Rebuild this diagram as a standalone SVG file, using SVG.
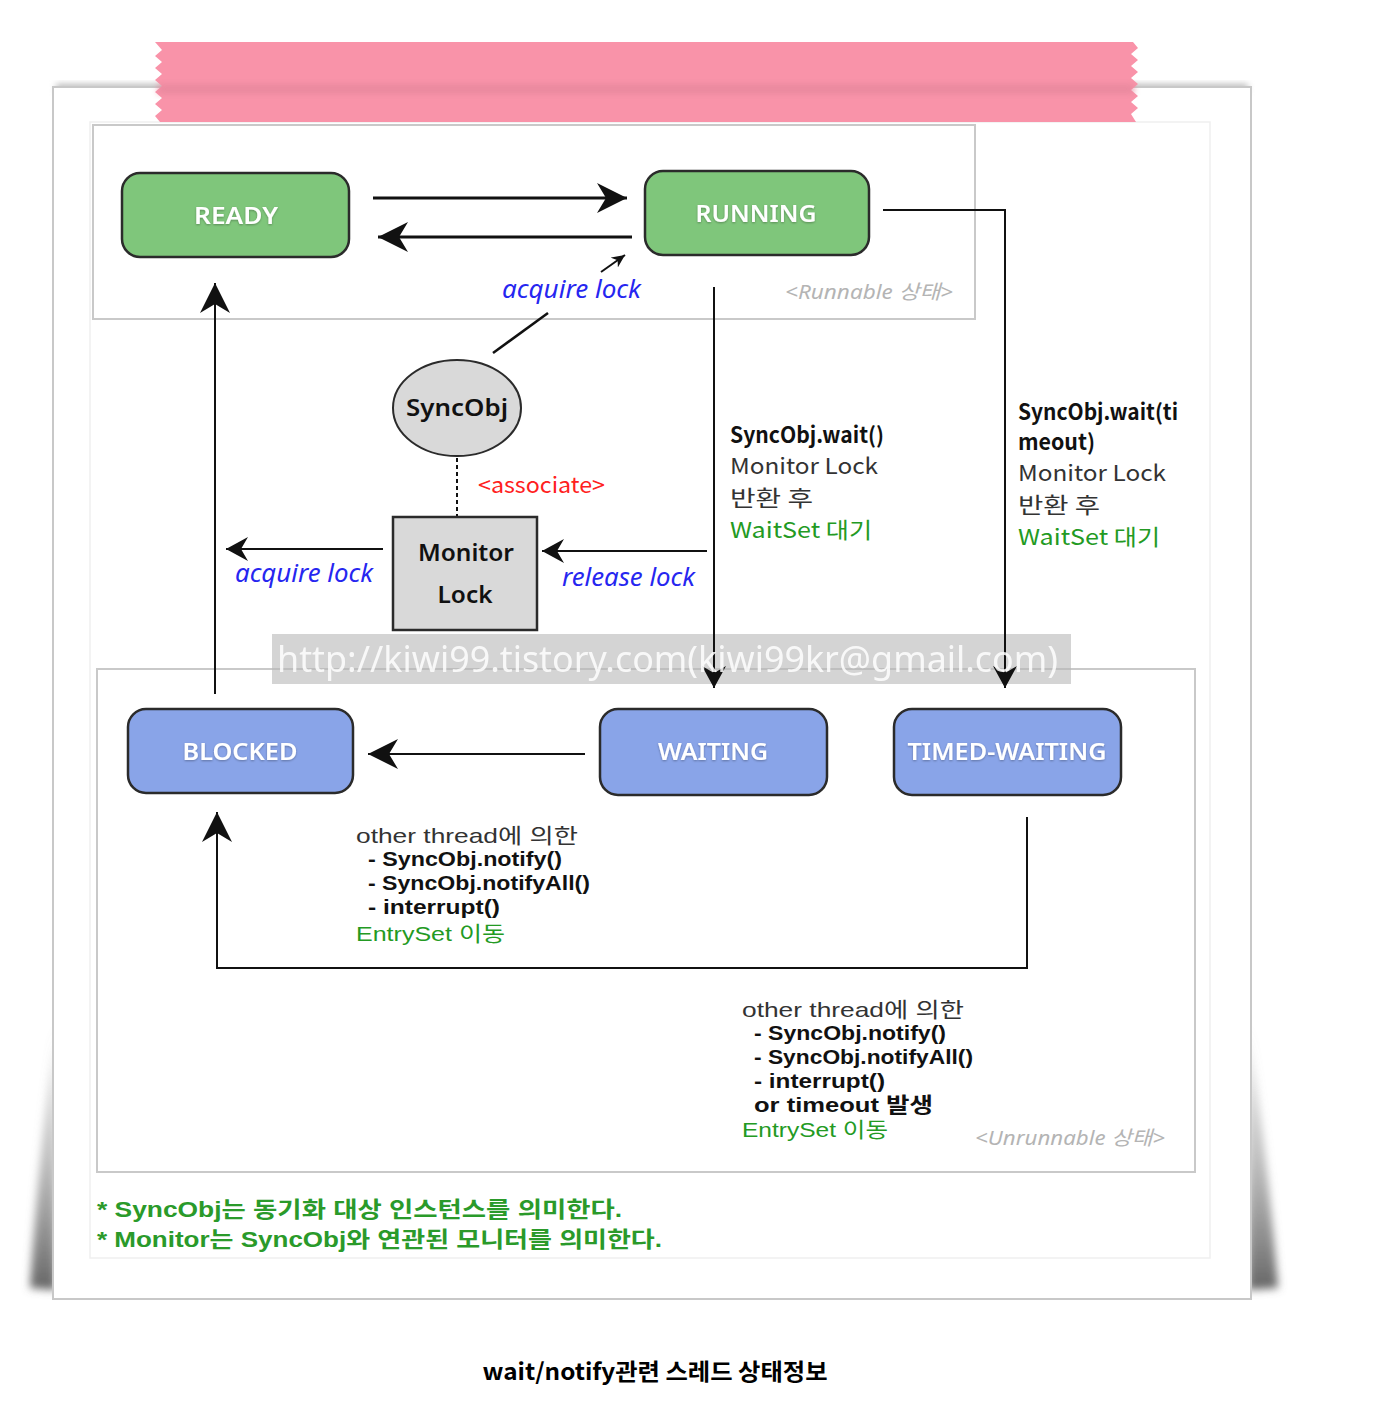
<svg xmlns="http://www.w3.org/2000/svg" width="1380" height="1420" viewBox="0 0 1380 1420">
<defs>
<style>
.t{font-family:"Noto Sans","Noto Sans CJK KR",sans-serif;}
.k{font-family:"Noto Sans CJK KR","Noto Sans",sans-serif;}
.node{stroke:#2b2b2b;stroke-width:2.5;}
.g{fill:#7fc67b;}
.b{fill:#89a4e8;}
.nt{font-family:"Noto Sans","Noto Sans CJK KR",sans-serif;font-size:23px;font-weight:600;fill:#ffffff;text-anchor:middle;}
.blue{font-family:"Noto Sans","Noto Sans CJK KR",sans-serif;font-size:25px;font-style:italic;fill:#2626f0;}
.lbl{font-family:"Noto Sans CJK KR","Noto Sans",sans-serif;font-size:22px;}
.sm{font-family:"Liberation Sans","Noto Sans CJK KR",sans-serif;font-size:21px;}
.foot{font-family:"Liberation Sans","Noto Sans CJK KR",sans-serif;font-size:22px;font-weight:700;fill:#2a9a2a;}
.blk{fill:#111;font-weight:600;}
.dk{fill:#333;}
.grn{fill:#239a23;}
.gry{font-family:"Noto Sans","Noto Sans CJK KR",sans-serif;font-size:20px;font-style:italic;fill:#b4b4b4;}
.ln{fill:none;stroke:#111;}
.box{fill:none;stroke:#c9c9c9;stroke-width:2;}
</style>
<marker id="big" markerUnits="userSpaceOnUse" markerWidth="32" markerHeight="30" refX="30" refY="15" orient="auto">
<path d="M0,0 L30,15 L0,30 L9,15 Z" fill="#111"/>
</marker>
<marker id="med" markerUnits="userSpaceOnUse" markerWidth="24" markerHeight="24" refX="22" refY="12" orient="auto">
<path d="M0,0 L22,12 L0,24 L7,12 Z" fill="#111"/>
</marker>
<marker id="sm" markerUnits="userSpaceOnUse" markerWidth="14" markerHeight="12" refX="13" refY="6" orient="auto">
<path d="M0,0 L13,6 L0,12 L4,6 Z" fill="#111"/>
</marker>
<linearGradient id="shd" x1="0" y1="0" x2="0" y2="1">
<stop offset="0" stop-color="#888" stop-opacity="0"/>
<stop offset="0.5" stop-color="#999" stop-opacity="0.6"/>
<stop offset="1" stop-color="#666" stop-opacity="1"/>
</linearGradient>
<filter id="blur" x="-50%" y="-20%" width="200%" height="140%"><feGaussianBlur stdDeviation="4"/></filter>
<filter id="blur2" x="-50%" y="-50%" width="200%" height="200%"><feGaussianBlur stdDeviation="3"/></filter>
<filter id="ts" x="-10%" y="-10%" width="120%" height="140%"><feGaussianBlur in="SourceAlpha" stdDeviation="1"/><feOffset dx="0" dy="1" result="o"/><feFlood flood-color="#000" flood-opacity="0.3"/><feComposite in2="o" operator="in"/><feMerge><feMergeNode/><feMergeNode in="SourceGraphic"/></feMerge></filter>
</defs>
<rect x="0" y="0" width="1380" height="1420" fill="#ffffff"/>

<!-- paper with shadows -->
<g id="paper">
<path d="M56,1020 L56,1290 L30,1288 Q38,1160 56,1020 Z" fill="url(#shd)" filter="url(#blur)"/>
<path d="M1248,1020 L1248,1290 L1278,1288 Q1268,1160 1248,1020 Z" fill="url(#shd)" filter="url(#blur)"/>
<rect x="56" y="84" width="1192" height="8" fill="#bbb" filter="url(#blur2)"/>
<rect x="53" y="87" width="1198" height="1212" fill="#ffffff" stroke="#c8c8c8" stroke-width="2"/>
<rect x="90" y="122" width="1120" height="1136" fill="#ffffff" stroke="#efefef" stroke-width="1.5"/>
</g>

<!-- tape -->
<g id="tape">
<path d="M155,42 L1133,42 L1138,48 L1131,54 L1138,60 L1131,66 L1138,72 L1131,78 L1138,84 L1131,90 L1138,96 L1131,102 L1138,108 L1131,114 L1136,122 L160,122 L155,116 L162,110 L155,104 L162,98 L155,92 L162,86 L155,80 L162,74 L155,68 L162,62 L155,56 L162,50 Z" fill="#f993a9"/>
<rect x="158" y="84" width="976" height="10" fill="#e6879c" opacity="0.8" filter="url(#blur2)"/>
</g>

<!-- regions -->
<g id="runnable-area">
<rect class="box" x="93" y="125" width="882" height="194"/>
<text class="gry" x="785" y="299" textLength="168" lengthAdjust="spacingAndGlyphs">&lt;Runnable 상태&gt;</text>
</g>
<g id="unrunnable-area">
<rect class="box" x="97" y="669" width="1098" height="503"/>
<text class="gry" x="975" y="1145" textLength="190" lengthAdjust="spacingAndGlyphs">&lt;Unrunnable 상태&gt;</text>
</g>

<g id="watermark-band">
<rect x="272" y="634" width="799" height="50" fill="#b8b8b8" opacity="0.6"/>
</g>

<!-- connectors -->
<g id="connectors">
<line class="ln" x1="373" y1="198" x2="627" y2="198" stroke-width="3" marker-end="url(#big)"/>
<line class="ln" x1="632" y1="237" x2="378" y2="237" stroke-width="3" marker-end="url(#big)"/>
<line class="ln" x1="601" y1="272" x2="625" y2="255" stroke-width="2" marker-end="url(#sm)"/>
<line class="ln" x1="548" y1="313" x2="493" y2="353" stroke-width="2.5"/>
<line class="ln" x1="457" y1="458" x2="457" y2="517" stroke-width="2" stroke-dasharray="4,3"/>
<line class="ln" x1="383" y1="549" x2="226" y2="549" stroke-width="2" marker-end="url(#med)"/>
<line class="ln" x1="707" y1="551" x2="542" y2="551" stroke-width="2" marker-end="url(#med)"/>
<line class="ln" x1="714" y1="287" x2="714" y2="688" stroke-width="2" marker-end="url(#med)"/>
<polyline class="ln" points="883,210 1005,210 1005,688" stroke-width="2" marker-end="url(#med)"/>
<line class="ln" x1="215" y1="694" x2="215" y2="283" stroke-width="2" marker-end="url(#big)"/>
<line class="ln" x1="585" y1="754" x2="368" y2="754" stroke-width="2" marker-end="url(#big)"/>
<polyline class="ln" points="1027,817 1027,968 217,968 217,812" stroke-width="2" marker-end="url(#big)"/>
</g>

<!-- nodes -->
<g id="ready">
<rect class="node g" x="122" y="173" width="227" height="84" rx="18"/>
<text class="nt" x="236" y="224" filter="url(#ts)" textLength="84" lengthAdjust="spacingAndGlyphs">READY</text>
</g>
<g id="running">
<rect class="node g" x="645" y="171" width="224" height="84" rx="18"/>
<text class="nt" x="756" y="222" filter="url(#ts)" textLength="121" lengthAdjust="spacingAndGlyphs">RUNNING</text>
</g>
<g id="syncobj">
<ellipse cx="457" cy="408" rx="64" ry="48" fill="#d9d9d9" stroke="#2b2b2b" stroke-width="2"/>
<text class="t" x="457" y="416" font-size="24" font-weight="600" fill="#111" text-anchor="middle" textLength="102" lengthAdjust="spacingAndGlyphs">SyncObj</text>
</g>
<g id="monitor-lock">
<rect x="393" y="517" width="144" height="113" fill="#d9d9d9" stroke="#2b2b2b" stroke-width="2.5"/>
<text class="t" x="466" y="561" font-size="24" font-weight="600" fill="#111" text-anchor="middle" textLength="96" lengthAdjust="spacingAndGlyphs">Monitor</text>
<text class="t" x="465" y="603" font-size="24" font-weight="600" fill="#111" text-anchor="middle" textLength="55" lengthAdjust="spacingAndGlyphs">Lock</text>
</g>
<g id="blocked">
<rect class="node b" x="128" y="709" width="225" height="84" rx="18"/>
<text class="nt" x="240" y="760" filter="url(#ts)" textLength="115" lengthAdjust="spacingAndGlyphs">BLOCKED</text>
</g>
<g id="waiting">
<rect class="node b" x="600" y="709" width="227" height="86" rx="18"/>
<text class="nt" x="713" y="760" filter="url(#ts)" textLength="110" lengthAdjust="spacingAndGlyphs">WAITING</text>
</g>
<g id="timed-waiting">
<rect class="node b" x="894" y="709" width="227" height="86" rx="18"/>
<text class="nt" x="1007" y="760" filter="url(#ts)" textLength="199" lengthAdjust="spacingAndGlyphs">TIMED-WAITING</text>
</g>

<!-- labels -->
<g id="labels">
<text class="blue" x="502" y="298" textLength="139" lengthAdjust="spacingAndGlyphs">acquire lock</text>
<text class="k" x="478" y="493" font-size="22" fill="#ff2020" textLength="127" lengthAdjust="spacingAndGlyphs">&lt;associate&gt;</text>
<text class="blue" x="235" y="582" textLength="138" lengthAdjust="spacingAndGlyphs">acquire lock</text>
<text class="blue" x="562" y="586" textLength="133" lengthAdjust="spacingAndGlyphs">release lock</text>

<text class="lbl blk" x="730" y="443" textLength="154" lengthAdjust="spacingAndGlyphs">SyncObj.wait()</text>
<text class="lbl dk" x="730" y="474" textLength="148" lengthAdjust="spacingAndGlyphs">Monitor Lock</text>
<text class="lbl dk" x="730" y="506" textLength="83" lengthAdjust="spacingAndGlyphs">반환 후</text>
<text class="lbl grn" x="730" y="538" textLength="142" lengthAdjust="spacingAndGlyphs">WaitSet 대기</text>

<text class="lbl blk" x="1018" y="420" textLength="160" lengthAdjust="spacingAndGlyphs">SyncObj.wait(ti</text>
<text class="lbl blk" x="1018" y="450" textLength="77" lengthAdjust="spacingAndGlyphs">meout)</text>
<text class="lbl dk" x="1018" y="481" textLength="148" lengthAdjust="spacingAndGlyphs">Monitor Lock</text>
<text class="lbl dk" x="1018" y="513" textLength="82" lengthAdjust="spacingAndGlyphs">반환 후</text>
<text class="lbl grn" x="1018" y="545" textLength="142" lengthAdjust="spacingAndGlyphs">WaitSet 대기</text>

<text class="sm dk" x="356" y="843" textLength="222" lengthAdjust="spacingAndGlyphs">other thread에 의한</text>
<text class="sm blk" x="368" y="866" textLength="194" lengthAdjust="spacingAndGlyphs">- SyncObj.notify()</text>
<text class="sm blk" x="368" y="890" textLength="222" lengthAdjust="spacingAndGlyphs">- SyncObj.notifyAll()</text>
<text class="sm blk" x="368" y="914" textLength="132" lengthAdjust="spacingAndGlyphs">- interrupt()</text>
<text class="sm grn" x="356" y="941" textLength="149" lengthAdjust="spacingAndGlyphs">EntrySet 이동</text>

<text class="sm dk" x="742" y="1017" textLength="222" lengthAdjust="spacingAndGlyphs">other thread에 의한</text>
<text class="sm blk" x="754" y="1040" textLength="192" lengthAdjust="spacingAndGlyphs">- SyncObj.notify()</text>
<text class="sm blk" x="754" y="1064" textLength="219" lengthAdjust="spacingAndGlyphs">- SyncObj.notifyAll()</text>
<text class="sm blk" x="754" y="1088" textLength="131" lengthAdjust="spacingAndGlyphs">- interrupt()</text>
<text class="sm blk" x="754" y="1112" textLength="179" lengthAdjust="spacingAndGlyphs">or timeout 발생</text>
<text class="sm grn" x="742" y="1137" textLength="146" lengthAdjust="spacingAndGlyphs">EntrySet 이동</text>

<text class="foot" x="97" y="1217" textLength="525" lengthAdjust="spacingAndGlyphs">* SyncObj는 동기화 대상 인스턴스를 의미한다.</text>
<text class="foot" x="97" y="1247" textLength="565" lengthAdjust="spacingAndGlyphs">* Monitor는 SyncObj와 연관된 모니터를 의미한다.</text>
</g>

<!-- watermark text -->
<g id="watermark">
<text class="t" x="277" y="672" font-size="36" fill="#ffffff" opacity="0.85" textLength="781" lengthAdjust="spacingAndGlyphs">http://kiwi99.tistory.com(kiwi99kr@gmail.com)</text>
</g>

<g id="caption">
<text class="k" x="655" y="1380" font-size="23" font-weight="700" fill="#000" text-anchor="middle" textLength="345" lengthAdjust="spacingAndGlyphs">wait/notify관련 스레드 상태정보</text>
</g>
</svg>
